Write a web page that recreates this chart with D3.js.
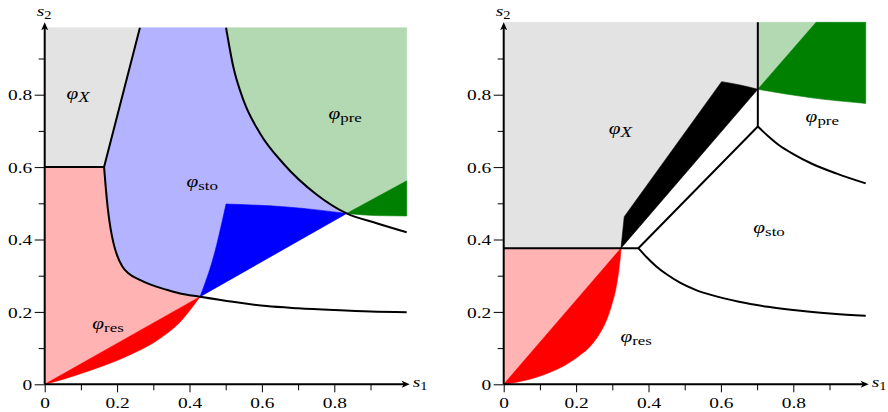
<!DOCTYPE html>
<html>
<head>
<meta charset="utf-8">
<script src="https://cdn.jsdelivr.net/npm/d3@7"></script>
<style>
  body { margin: 0; background: #fff; }
  text { font-family: "Liberation Serif", serif; fill: #000; }
</style>
</head>
<body>
<div id="chart"></div>
<script>
// tick values
var majorTicks = [0, 0.2, 0.4, 0.6, 0.8];
var minorTicks = [0.1, 0.3, 0.5, 0.7, 0.9];

// ---- left panel (s1, s2) ----
var L_top = 0.985;
var L_corner = [0.164, 0.6];
var L_grayTop = [0.263, L_top];
var L_meet = [0.429, 0.242];      // res / sto / lower curve meet here
var L_cross = [0.834, 0.472];     // sto / pre boundary crossing
// curve between pink and light blue
var L_resUpper = [[0.164, 0.600], [0.169, 0.540], [0.175, 0.480], [0.182, 0.430], [0.190, 0.390],
  [0.200, 0.356], [0.214, 0.326], [0.232, 0.306], [0.260, 0.290], [0.291, 0.276], [0.337, 0.261],
  [0.374, 0.251], [0.429, 0.242]];
// continuation to the right edge
var L_resLower = [[0.429, 0.242], [0.520, 0.228], [0.613, 0.216], [0.700, 0.210], [0.800, 0.205],
  [0.900, 0.201], [1.000, 0.199]];
// curve between sto and pre
var L_preCurve = [[0.501, 0.985], [0.521, 0.877], [0.549, 0.785], [0.595, 0.693], [0.659, 0.610],
  [0.750, 0.525], [0.834, 0.472], [0.917, 0.445], [1.000, 0.420]];
// lower edge of the dark red wedge
var L_redCurve = [[0, 0], [0.061, 0.017], [0.107, 0.032], [0.153, 0.048], [0.200, 0.066], [0.245, 0.086],
  [0.291, 0.109], [0.337, 0.140], [0.374, 0.172], [0.400, 0.203], [0.429, 0.242]];
// dark blue wedge
var L_blueLeft = [[0.429, 0.242], [0.445, 0.285], [0.460, 0.330], [0.475, 0.385], [0.488, 0.440], [0.501, 0.498]];
var L_blueTop = [[0.501, 0.498], [0.667, 0.490], [0.834, 0.472]];
// dark green wedge
var L_greenEdge = [1.0, 0.562];
var L_greenBottom = [[1.0, 0.465], [0.917, 0.466], [0.834, 0.472]];

// ---- right panel ----
var R_top = 1.0;
var R_level = 0.376;
var R_redTip = [0.324, 0.376];
var R_knee = [0.372, 0.376];
var R_junction = [0.702, 0.712];
var R_greenTip = [0.702, 0.815];
var R_blackBend = [0.333, 0.463];
var R_blackTop = [[0.602, 0.836], [0.652, 0.827], [0.702, 0.815]];
var R_greenSplit = [0.863, R_top];
var R_greenBottom = [[1.0, 0.776], [0.846, 0.792], [0.702, 0.815]];
var R_redCurve = [[0, 0], [0.060, 0.011], [0.120, 0.030], [0.170, 0.053], [0.210, 0.080], [0.240, 0.106],
  [0.265, 0.140], [0.285, 0.180], [0.300, 0.225], [0.311, 0.270], [0.318, 0.315], [0.322, 0.350],
  [0.324, 0.376]];
var R_lowCurve = [[0.372, 0.376], [0.395, 0.351], [0.420, 0.327], [0.450, 0.304], [0.487, 0.281],
  [0.530, 0.261], [0.580, 0.245], [0.650, 0.228], [0.730, 0.214], [0.820, 0.203], [0.910, 0.195],
  [1.000, 0.189]];
var R_highCurve = [[0.702, 0.712], [0.730, 0.686], [0.760, 0.661], [0.800, 0.636], [0.850, 0.610],
  [0.920, 0.582], [1.000, 0.555]];

// region labels (data coordinates)
var L_labels = [
  {sub: "X", x: 0.092, y: 0.80, it: true},
  {sub: "sto", x: 0.435, y: 0.556},
  {sub: "pre", x: 0.830, y: 0.743},
  {sub: "res", x: 0.175, y: 0.164}
];
var R_labels = [
  {sub: "X", x: 0.322, y: 0.702, it: true},
  {sub: "pre", x: 0.880, y: 0.735},
  {sub: "sto", x: 0.733, y: 0.429},
  {sub: "res", x: 0.366, y: 0.128}
];

var col = {
  gray: "#e3e3e3", pink: "#ffb3b3", red: "#ff0000",
  lblue: "#b3b3ff", blue: "#0000ff", lgreen: "#b3d9b3", green: "#008000"
};

var W = 888, H = 412;
var svg = d3.select("#chart").append("svg")
  .attr("width", W)
  .attr("height", H);

var y = d3.scaleLinear().domain([0, 1]).range([384.3, 22.3]);
var xL = d3.scaleLinear().domain([0, 1]).range([44.7, 406.7]);
var xR = d3.scaleLinear().domain([0, 1]).range([503.7, 865.7]);

function seg(x, pts, curved) {
  return d3.line()
    .x(function(d){ return x(d[0]); })
    .y(function(d){ return y(d[1]); })
    .curve(curved ? d3.curveMonotoneX : d3.curveLinear)(pts);
}

// parts: [points, curved] joined into one closed outline
function shape(x, parts) {
  return parts.map(function(p, i){
    var s = seg(x, p[0], p[1]);
    return i ? "L" + s.slice(1) : s;
  }).join("") + "Z";
}

function rev(a){ return a.slice().reverse(); }

function fill(g, d, c) {
  g.append("path").attr("d", d).attr("fill", c).attr("stroke", c).attr("stroke-width", 0.6);
}

function stroke(g, d) {
  g.append("path").attr("d", d)
    .attr("fill", "none")
    .attr("stroke", "#000")
    .attr("stroke-width", 2)
    .attr("stroke-linejoin", "round");
}

var TX = 1.25; // horizontal stretch of the lettering

function label(g, x, d) {
  var t = g.append("text")
    .attr("transform", "translate(" + x(d.x) + "," + (y(d.y) + 4) + ") scale(" + TX + ",1)")
    .attr("text-anchor", "middle")
    .style("font-size", "17px");
  t.append("tspan").style("font-style", "italic").text("φ");
  t.append("tspan")
    .attr("dy", 3)
    .style("font-size", d.it ? "15px" : "13.5px")
    .style("font-style", d.it ? "italic" : "normal")
    .text(d.sub);
}

function axes(g, x) {
  var fmt = function(d){ return d === 0 ? "0" : d3.format(".1f")(d); };

  var ax = g.append("g").attr("transform", "translate(0," + y(0) + ")")
    .call(d3.axisBottom(x).tickValues(majorTicks).tickSize(8).tickPadding(4).tickFormat(fmt));
  ax.select(".domain").remove();
  ax.selectAll("line").attr("stroke-width", 1);
  ax.selectAll("text")
    .attr("font-family", null)
    .style("font-size", "15.5px")
    .attr("y", 13).attr("dy", "0.71em")
    .attr("transform", "scale(" + TX + ",1)");

  var axm = g.append("g").attr("transform", "translate(0," + y(0) + ")")
    .call(d3.axisBottom(x).tickValues(minorTicks).tickSize(6).tickFormat(""));
  axm.select(".domain").remove();
  axm.selectAll("line").attr("stroke-width", 1);

  var ay = g.append("g").attr("transform", "translate(" + x(0) + ",0)")
    .call(d3.axisLeft(y).tickValues(majorTicks).tickSize(10).tickFormat(fmt));
  ay.select(".domain").remove();
  ay.selectAll("line").attr("stroke-width", 1);
  ay.selectAll("text")
    .attr("font-family", null)
    .style("font-size", "15.5px")
    .attr("x", -10).attr("dy", "0.34em")
    .attr("transform", "scale(" + TX + ",1)");

  var aym = g.append("g").attr("transform", "translate(" + x(0) + ",0)")
    .call(d3.axisLeft(y).tickValues(minorTicks).tickSize(6).tickFormat(""));
  aym.select(".domain").remove();
  aym.selectAll("line").attr("stroke-width", 1);

  // axis lines with arrow heads
  var x0 = x(0), y0 = y(0), xe = x(1) + 3, ye = y(1);
  g.append("path")
    .attr("d", "M" + x0 + "," + y0 + "H" + (xe - 4) + "M" + x0 + "," + y0 + "V" + (ye + 4))
    .attr("stroke", "#000").attr("stroke-width", 2).attr("fill", "none");
  g.append("path")
    .attr("d", "M" + xe + "," + y0 + "l-8,-3.5 l2,3.5 l-2,3.5 Z")
    .attr("fill", "#000");
  g.append("path")
    .attr("d", "M" + x0 + "," + ye + "l-3.5,8 l3.5,-2 l3.5,2 Z")
    .attr("fill", "#000");

  var s1 = g.append("text")
    .attr("transform", "translate(" + (xe + 3) + "," + (y0 + 3) + ") scale(" + TX + ",1)")
    .style("font-size", "15.5px");
  s1.append("tspan").style("font-style", "italic").text("s");
  s1.append("tspan").attr("dy", 3).style("font-size", "11.5px").text("1");

  var s2 = g.append("text")
    .attr("transform", "translate(" + (x0 - 8) + "," + (ye - 6) + ") scale(" + TX + ",1)")
    .style("font-size", "15.5px");
  s2.append("tspan").style("font-style", "italic").text("s");
  s2.append("tspan").attr("dy", 3).style("font-size", "11.5px").text("2");
}

// ================= left panel =================
var gl = svg.append("g");

fill(gl, shape(xL, [[[[0, 0.6], [0, L_top], L_grayTop, L_corner], false]]), col.gray);
fill(gl, shape(xL, [[[[0, 0], [0, 0.6]], false], [L_resUpper, true], [[L_meet, [0, 0]], false]]), col.pink);
fill(gl, shape(xL, [[[[0, 0], L_meet], false], [rev(L_redCurve), true]]), col.red);
fill(gl, shape(xL, [
  [[L_corner, L_grayTop, [0.501, L_top]], false],
  [L_preCurve.slice(0, 7), true],
  [[L_cross, L_meet], false],
  [rev(L_resUpper), true]
]), col.lblue);
fill(gl, shape(xL, [[L_blueLeft, true], [L_blueTop, true], [[L_cross, L_meet], false]]), col.blue);
fill(gl, shape(xL, [
  [[[0.501, L_top], [1.0, L_top], L_greenEdge, L_cross], false],
  [rev(L_preCurve.slice(0, 7)), true]
]), col.lgreen);
fill(gl, shape(xL, [[[L_cross, L_greenEdge], false], [L_greenBottom, true]]), col.green);

stroke(gl, seg(xL, [[0, 0.6], L_corner, L_grayTop], false));
stroke(gl, seg(xL, L_resUpper.concat(L_resLower.slice(1)), true));
stroke(gl, seg(xL, L_preCurve, true));

L_labels.forEach(function(d){ label(gl, xL, d); });
axes(gl, xL);

// ================= right panel =================
var gr = svg.append("g");

fill(gr, shape(xR, [[[[0, R_level], [0, R_top], [0.702, R_top], R_greenTip], false],
  [rev(R_blackTop), true], [[R_blackBend, R_redTip], false]]), col.gray);
fill(gr, shape(xR, [[[R_redTip, R_blackBend, R_blackTop[0]], false], [R_blackTop, true],
  [[R_greenTip, R_redTip], false]]), "#000");
fill(gr, shape(xR, [[[R_greenTip, [0.702, R_top], R_greenSplit], false]]), col.lgreen);
fill(gr, shape(xR, [[[R_greenTip, R_greenSplit, [1.0, R_top]], false], [R_greenBottom, true]]), col.green);
fill(gr, shape(xR, [[[[0, 0], [0, R_level], R_redTip], false]]), col.pink);
fill(gr, shape(xR, [[[[0, 0], R_redTip], false], [rev(R_redCurve), true]]), col.red);

stroke(gr, seg(xR, [[0, R_level], R_knee, R_junction, [0.702, R_top]], false));
stroke(gr, seg(xR, R_lowCurve, true));
stroke(gr, seg(xR, R_highCurve, true));

R_labels.forEach(function(d){ label(gr, xR, d); });
axes(gr, xR);
</script>
</body>
</html>
